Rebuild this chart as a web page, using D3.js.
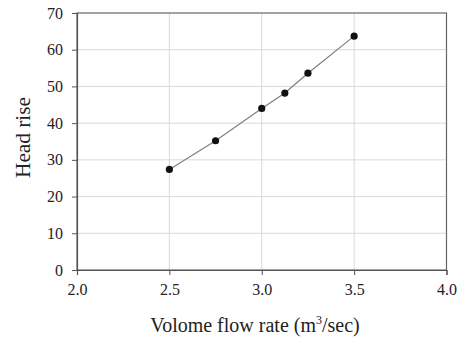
<!DOCTYPE html>
<html>
<head>
<meta charset="utf-8">
<script src="https://cdn.jsdelivr.net/npm/d3@7"></script>
<style>
  html, body { margin: 0; padding: 0; background: #fff; }
  svg, svg text { font-family: "Liberation Serif", "Times New Roman", serif; }
  svg { display: block; }
</style>
</head>
<body>
<svg id="chart" width="459" height="338"></svg>
<script>
// Pump performance: head rise against volume flow rate
const flowRates = [2.5, 2.75, 3.0, 3.125, 3.25, 3.5];
const headRise = [27.4, 35.2, 44.0, 48.2, 53.6, 63.7];
const xTicks = [2.0, 2.5, 3.0, 3.5, 4.0];
const yTicks = [0, 10, 20, 30, 40, 50, 60, 70];

const svg = d3.select("#chart");
const margin = { left: 77, right: 12, top: 13, bottom: 68 };
const W = 459, H = 338;

const x = d3.scaleLinear().domain([2.0, 4.0]).range([margin.left, W - margin.right - 0.5]);
const y = d3.scaleLinear().domain([0, 70]).range([H - margin.bottom, margin.top]);

// gridlines
svg.append("g").selectAll("line.gy").data(yTicks.slice(1, -1)).join("line")
  .attr("x1", x(2.0)).attr("x2", x(4.0))
  .attr("y1", d => y(d)).attr("y2", d => y(d))
  .attr("stroke", "#d9d9d9").attr("stroke-width", 1);
svg.append("g").selectAll("line.gx").data(xTicks.slice(1, -1)).join("line")
  .attr("x1", d => x(d)).attr("x2", d => x(d))
  .attr("y1", y(0)).attr("y2", y(70))
  .attr("stroke", "#d9d9d9").attr("stroke-width", 1);

// plot frame
svg.append("rect")
  .attr("x", x(2.0)).attr("y", y(70))
  .attr("width", x(4.0) - x(2.0)).attr("height", y(0) - y(70))
  .attr("fill", "none").attr("stroke", "#666").attr("stroke-width", 1.2);

// axes
const xAxis = svg.append("g").attr("transform", `translate(0,${y(0)})`)
  .call(d3.axisBottom(x).tickValues(xTicks).tickFormat(d3.format(".1f")).tickSizeOuter(0).tickSize(5).tickPadding(9));
const yAxis = svg.append("g").attr("transform", `translate(${x(2.0)},0)`)
  .call(d3.axisLeft(y).tickValues(yTicks).tickFormat(d3.format("d")).tickSizeOuter(0).tickSize(5).tickPadding(9));
[xAxis, yAxis].forEach(g => {
  g.attr("font-family", null).attr("font-size", null);
  g.select(".domain").attr("stroke", "#555").attr("stroke-width", 1.2);
  g.selectAll(".tick line").attr("stroke", "#555");
  g.selectAll(".tick text")
    .attr("fill", "#222")
    .style("font-family", '"Liberation Serif", "Times New Roman", serif')
    .style("font-size", "16px");
});

// data line and markers
svg.append("path")
  .datum(flowRates.map((f, i) => [f, headRise[i]]))
  .attr("fill", "none").attr("stroke", "#808080").attr("stroke-width", 1.2)
  .attr("d", d3.line().x(d => x(d[0])).y(d => y(d[1])));
svg.append("g").selectAll("circle").data(flowRates).join("circle")
  .attr("cx", d => x(d)).attr("cy", (d, i) => y(headRise[i]))
  .attr("r", 3.6).attr("fill", "#111");

// axis titles
svg.append("text")
  .attr("x", 255).attr("y", 332)
  .attr("text-anchor", "middle").attr("font-size", 20).attr("fill", "#222")
  .html('Volome flow rate (m<tspan dy="-8" font-size="12">3</tspan><tspan dy="8">/sec)</tspan>');
svg.append("text")
  .attr("transform", `translate(30,137.5) rotate(-90)`)
  .attr("text-anchor", "middle").attr("font-size", 20).attr("fill", "#222")
  .attr("textLength", 81).attr("lengthAdjust", "spacingAndGlyphs")
  .text("Head rise");
</script>
</body>
</html>
